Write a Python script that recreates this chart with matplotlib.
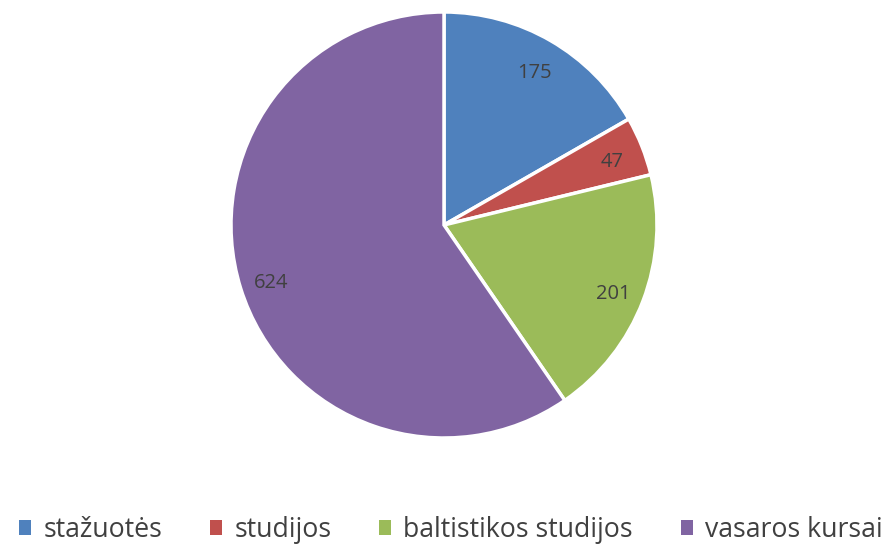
import matplotlib
matplotlib.use("Agg")
import matplotlib.pyplot as plt
from matplotlib.patches import Patch
import numpy as np

categories = ["stažuotės", "studijos", "baltistikos studijos", "vasaros kursai"]
values = [175, 47, 201, 624]
colors = ["#4F81BD", "#C0504D", "#9BBB59", "#8064A2"]

plt.rcParams['font.family'] = ['Open Sans', 'DejaVu Sans']

W, H = 894, 546
fig = plt.figure(figsize=(W / 100, H / 100), dpi=100)
cx, cy, r = 444, 225, 213
ax = fig.add_axes([(cx - r) / W, (H - cy - r) / H, 2 * r / W, 2 * r / H])

wedges, texts = ax.pie(values, colors=colors, startangle=90, counterclock=False,
                       radius=1.0, wedgeprops=dict(edgecolor="white", linewidth=2.5))
total = sum(values)
cum = 0
for v in values:
    mid = 90 - (cum + v / 2) / total * 360
    cum += v
    a = np.deg2rad(mid)
    ax.text(0.85 * np.cos(a), 0.85 * np.sin(a) - 0.02, str(v), ha="center", va="center",
            fontsize=14.5, color="#404040")
ax.set_xlim(-1.0, 1.0)
ax.set_ylim(-1.0, 1.0)
ax.set_aspect("equal")
ax.axis("off")

handles = [Patch(facecolor=c, edgecolor="none") for c in colors]
fig.legend(handles, categories, loc="center", bbox_to_anchor=(451 / W, 1 - 530 / H),
           ncol=4, frameon=False, fontsize=19.2, handlelength=0.45, handleheight=0.45,
           handletextpad=0.45, columnspacing=1.8, labelcolor="#404040",
           borderpad=0, borderaxespad=0)

fig.savefig("out.png", dpi=100)
